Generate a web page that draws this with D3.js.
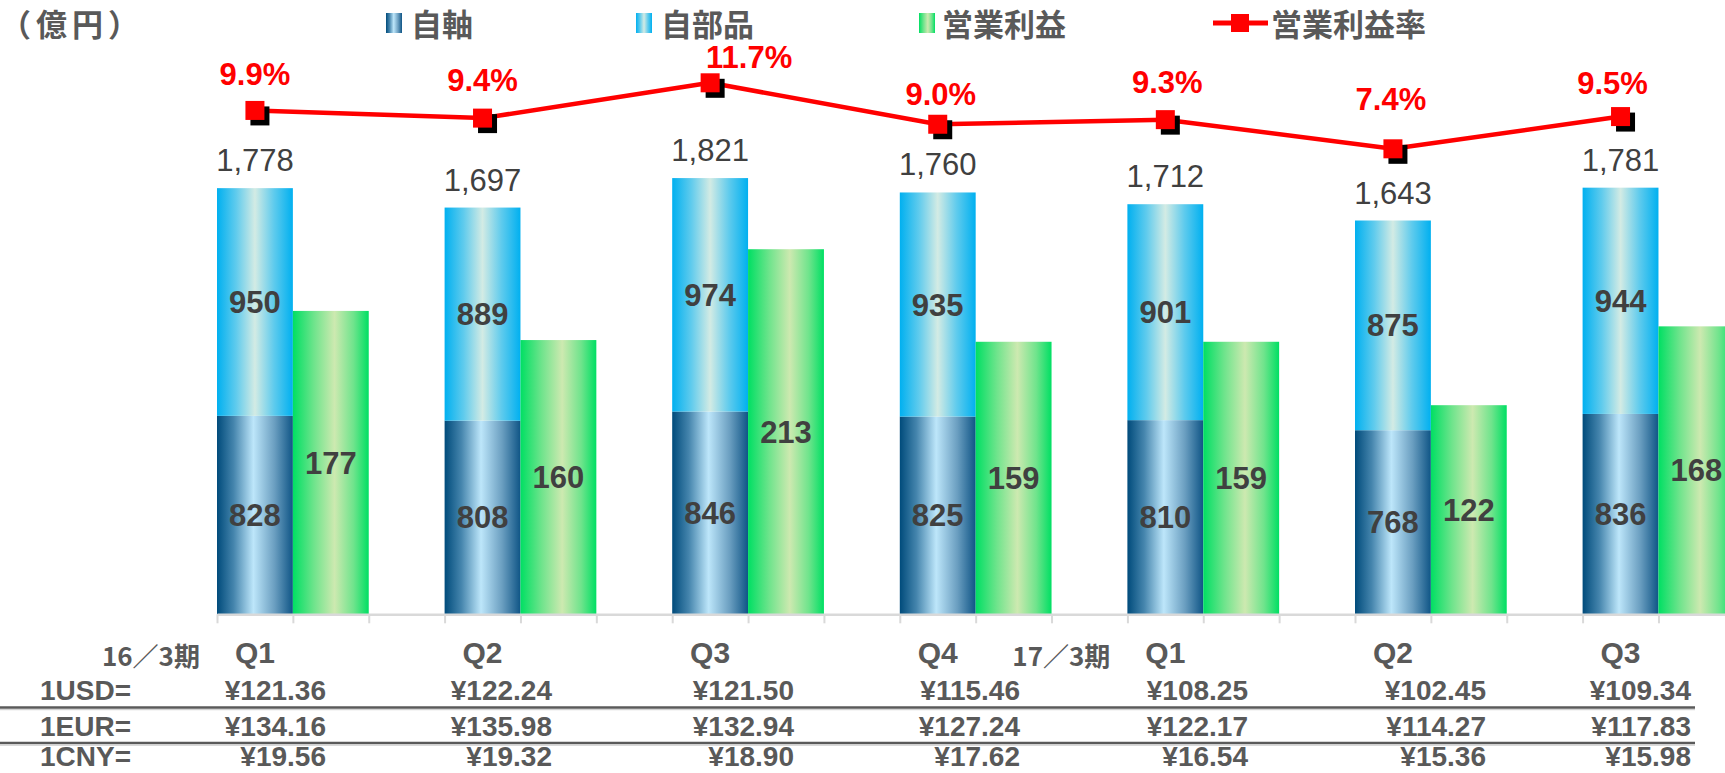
<!DOCTYPE html>
<html>
<head>
<meta charset="utf-8">
<script src="https://cdn.jsdelivr.net/npm/d3@7"></script>
<style>
  html, body { margin: 0; padding: 0; background: #ffffff; }
  svg { display: block; }
</style>
</head>
<body>
<svg id="chart" width="1725" height="773"></svg>
<script>
// ---------------- DATA ----------------
const categories = ["16/3 Q1", "16/3 Q2", "16/3 Q3", "16/3 Q4", "17/3 Q1", "17/3 Q2", "17/3 Q3"];
const quarterLabels = ["Q1", "Q2", "Q3", "Q4", "Q1", "Q2", "Q3"];
const periodLabels = [{ index: 0, text: "16／3期" }, { index: 4, text: "17／3期" }];
const ownAxle = [828, 808, 846, 825, 810, 768, 836];          // 自軸
const ownParts = [950, 889, 974, 935, 901, 875, 944];         // 自部品
const totals = [1778, 1697, 1821, 1760, 1712, 1643, 1781];    // 合計
const operatingProfit = [177, 160, 213, 159, 159, 122, 168];  // 営業利益
const operatingMargin = [9.9, 9.4, 11.7, 9.0, 9.3, 7.4, 9.5]; // 営業利益率 (%)
const rowLabels = ["1USD=", "1EUR=", "1CNY="];
const usdRates = [121.36, 122.24, 121.50, 115.46, 108.25, 102.45, 109.34];
const eurRates = [134.16, 135.98, 132.94, 127.24, 122.17, 114.27, 117.83];
const cnyRates = [19.56, 19.32, 18.90, 17.62, 16.54, 15.36, 15.98];
const seriesNames = ["自軸", "自部品", "営業利益", "営業利益率"];
const unitLabel = "（億円）";

// ---------------- LAYOUT ----------------
const W = 1725, H = 773;
const baseY = 614.3;
const latin = "'Liberation Sans', Arial, 'Noto Sans CJK JP', sans-serif";
const cjk = "'Noto Sans CJK JP', 'Liberation Sans', sans-serif";
const textGray = "#595959";
const valueGray = "#404040";
// label nudges for the margin labels (relative to marker)
const rateLabelDx = [0, 0, 39, 3, 2, -2, -8];
const rateLabelDy = [-25, -27, -14.5, -19, -26.5, -38.5, -23];
// right edges of exchange-rate table columns
const tableRight = [326, 552, 794, 1020, 1248, 1486, 1691];

const svg = d3.select("#chart");
const defs = svg.append("defs");

function hGrad(id, stops) {
  const g = defs.append("linearGradient").attr("id", id)
    .attr("x1", "0%").attr("y1", "0%").attr("x2", "100%").attr("y2", "0%");
  stops.forEach(s => g.append("stop").attr("offset", s[0]).attr("stop-color", s[1]));
}
hGrad("gAxle", [["0%", "#004b7b"], ["22%", "#4585ad"], ["48%", "#bde6fa"], ["76%", "#6a9ec0"], ["100%", "#0f5586"]]);
hGrad("gParts", [["0%", "#00b0f0"], ["25%", "#5fcbed"], ["50%", "#d3ebe4"], ["75%", "#5fcbed"], ["100%", "#00b0f0"]]);
hGrad("gProfit", [["0%", "#00df63"], ["28%", "#6fe48c"], ["55%", "#cde9b0"], ["80%", "#6fe48c"], ["100%", "#00df63"]]);

// ---------------- SCALES ----------------
const x = d3.scaleBand().domain(categories).range([217, 217 + 7 * 227.6]).paddingInner(0).paddingOuter(0);
const slot = x.bandwidth() / 3;
const yBars = d3.scaleLinear().domain([0, 2500]).range([baseY, 15.1]);
const yProfit = d3.scaleLinear().domain([0, 350]).range([baseY, 14.4]);
const yRate = d3.scaleLinear().domain([0, 12]).range([262.4, 78.2]);
const slotScale = d3.scaleLinear().domain([0, 21]).range([217, 217 + 21 * slot]);

const data = categories.map((c, i) => ({
  c, i, axle: ownAxle[i], parts: ownParts[i], total: totals[i],
  profit: operatingProfit[i], rate: operatingMargin[i]
}));
const cx = d => x(d.c) + slot / 2;

// ---------------- AXIS ----------------
const axisG = svg.append("g").attr("transform", `translate(0,${baseY})`)
  .call(d3.axisBottom(slotScale).tickValues(d3.range(0, 22)).tickSize(9).tickSizeOuter(0).tickFormat(""));
axisG.select(".domain").attr("stroke", "#d9d9d9").attr("stroke-width", 2.5);
axisG.selectAll(".tick line").attr("stroke", "#d9d9d9").attr("stroke-width", 2);

// ---------------- BARS ----------------
const bars = svg.append("g");
bars.selectAll("rect.axle").data(data).join("rect").attr("class", "axle")
  .attr("x", d => x(d.c)).attr("width", slot)
  .attr("y", d => yBars(d.axle)).attr("height", d => yBars(0) - yBars(d.axle))
  .attr("fill", "url(#gAxle)");
bars.selectAll("rect.parts").data(data).join("rect").attr("class", "parts")
  .attr("x", d => x(d.c)).attr("width", slot)
  .attr("y", d => yBars(d.axle + d.parts)).attr("height", d => yBars(d.axle) - yBars(d.axle + d.parts))
  .attr("fill", "url(#gParts)");
bars.selectAll("rect.profit").data(data).join("rect").attr("class", "profit")
  .attr("x", d => x(d.c) + slot).attr("width", slot)
  .attr("y", d => yProfit(d.profit)).attr("height", d => yProfit(0) - yProfit(d.profit))
  .attr("fill", "url(#gProfit)");

// redraw axis line on top of bar bottoms
svg.node().appendChild(axisG.node());

// ---------------- BAR LABELS ----------------
const lab = svg.append("g").attr("font-family", latin);
lab.selectAll("text.va").data(data).join("text")
  .attr("x", cx).attr("y", d => (yBars(0) + yBars(d.axle)) / 2 + 11)
  .attr("text-anchor", "middle").attr("font-size", 31).attr("font-weight", "bold").attr("fill", valueGray)
  .text(d => d3.format(",")(d.axle));
lab.selectAll("text.vp").data(data).join("text")
  .attr("x", cx).attr("y", d => (yBars(d.axle) + yBars(d.axle + d.parts)) / 2 + 11)
  .attr("text-anchor", "middle").attr("font-size", 31).attr("font-weight", "bold").attr("fill", valueGray)
  .text(d => d3.format(",")(d.parts));
lab.selectAll("text.vg").data(data).join("text")
  .attr("x", d => x(d.c) + slot * 1.5).attr("y", d => (yProfit(0) + yProfit(d.profit)) / 2 + 11)
  .attr("text-anchor", "middle").attr("font-size", 31).attr("font-weight", "bold").attr("fill", valueGray)
  .text(d => d3.format(",")(d.profit));
lab.selectAll("text.vt").data(data).join("text")
  .attr("x", cx).attr("y", d => yBars(d.axle + d.parts) - 17)
  .attr("text-anchor", "middle").attr("font-size", 31).attr("fill", valueGray)
  .text(d => d3.format(",")(d.total));

// ---------------- LINE ----------------
const line = d3.line().x(cx).y(d => yRate(d.rate));
svg.append("path").datum(data).attr("d", line)
  .attr("fill", "none").attr("stroke", "#ff0000").attr("stroke-width", 4.5).attr("stroke-linejoin", "round");
const ms = 19;
svg.append("g").selectAll("rect").data(data).join("rect")
  .attr("x", d => cx(d) - ms / 2 + 5).attr("y", d => yRate(d.rate) - ms / 2 + 5.5)
  .attr("width", ms).attr("height", ms).attr("fill", "#000");
svg.append("g").selectAll("rect").data(data).join("rect")
  .attr("x", d => cx(d) - ms / 2).attr("y", d => yRate(d.rate) - ms / 2)
  .attr("width", ms).attr("height", ms).attr("fill", "#ff0000");
svg.append("g").selectAll("text").data(data).join("text")
  .attr("x", d => cx(d) + rateLabelDx[d.i]).attr("y", d => yRate(d.rate) + rateLabelDy[d.i])
  .attr("text-anchor", "middle").attr("font-family", latin).attr("font-size", 31)
  .attr("font-weight", "bold").attr("fill", "#ff0000")
  .text(d => d3.format(".1f")(d.rate) + "%");

// ---------------- LEGEND & UNIT ----------------
svg.append("text").attr("x", 0).attr("y", 22).attr("dominant-baseline", "central")
  .attr("font-family", cjk).attr("font-size", 31).attr("font-weight", "bold").attr("fill", textGray)
  .attr("letter-spacing", 5)
  .text(unitLabel);
const legendItems = [
  { name: seriesNames[0], fill: "url(#gAxle)", ix: 386, tx: 411 },
  { name: seriesNames[1], fill: "url(#gParts)", ix: 636, tx: 661 },
  { name: seriesNames[2], fill: "url(#gProfit)", ix: 919, tx: 942 }
];
const leg = svg.append("g");
leg.selectAll("rect").data(legendItems).join("rect")
  .attr("x", d => d.ix).attr("y", 13).attr("width", 16).attr("height", 20).attr("fill", d => d.fill);
leg.selectAll("text.li").data(legendItems.concat([{ name: seriesNames[3], tx: 1271 }])).join("text")
  .attr("class", "li").attr("x", d => d.tx).attr("y", 22).attr("dominant-baseline", "central")
  .attr("font-family", cjk).attr("font-size", 31).attr("font-weight", "bold").attr("fill", textGray)
  .text(d => d.name);
leg.append("line").attr("x1", 1213).attr("x2", 1268).attr("y1", 23).attr("y2", 23)
  .attr("stroke", "#ff0000").attr("stroke-width", 5);
leg.append("rect").attr("x", 1231).attr("y", 14).attr("width", 18).attr("height", 18).attr("fill", "#ff0000");

// ---------------- TABLE ----------------
const tbl = svg.append("g").attr("font-family", latin).attr("font-weight", "bold").attr("fill", textGray);
tbl.selectAll("text.q").data(data).join("text")
  .attr("x", cx).attr("y", 663).attr("text-anchor", "middle").attr("font-size", 30)
  .text(d => quarterLabels[d.i]);
tbl.selectAll("text.per").data(periodLabels).join("text")
  .attr("x", d => x(categories[d.index]) + slot / 2 - 55).attr("y", 666)
  .attr("text-anchor", "end").attr("font-size", 26).attr("font-family", cjk)
  .text(d => d.text);
const rows = [usdRates, eurRates, cnyRates];
const rowBase = [700, 736, 766];
rows.forEach((vals, r) => {
  tbl.append("text").attr("x", 40).attr("y", rowBase[r]).attr("font-size", 28).text(rowLabels[r]);
  tbl.selectAll(`text.r${r}`).data(vals).join("text").attr("class", `r${r}`)
    .attr("x", (v, i) => tableRight[i]).attr("y", rowBase[r]).attr("text-anchor", "end").attr("font-size", 28)
    .text(v => "¥" + d3.format(".2f")(v));
});
[707.5, 743].forEach(yy => {
  svg.append("line").attr("x1", 0).attr("x2", 1695).attr("y1", yy).attr("y2", yy)
    .attr("stroke", "#5a5a5a").attr("stroke-width", 2.5);
  svg.append("line").attr("x1", 0).attr("x2", 1695).attr("y1", yy + 2.2).attr("y2", yy + 2.2)
    .attr("stroke", "#c8c8c8").attr("stroke-width", 1);
});
</script>
</body>
</html>
